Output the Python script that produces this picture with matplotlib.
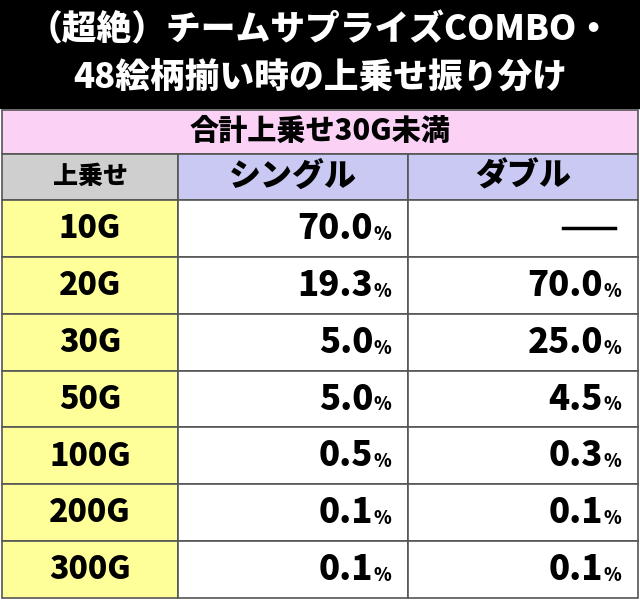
import matplotlib
matplotlib.use("Agg")
import matplotlib.pyplot as plt
from matplotlib.patches import Rectangle

plt.rcParams['font.family'] = ['Noto Sans CJK JP', 'DejaVu Sans']

title_lines = ["（超絶）チームサプライズCOMBO・", "48絵柄揃い時の上乗せ振り分け"]
subtitle = "合計上乗せ30G未満"
headers = ["上乗せ", "シングル", "ダブル"]
rows = ["10G", "20G", "30G", "50G", "100G", "200G", "300G"]
single = ["70.0", "19.3", "5.0", "5.0", "0.5", "0.1", "0.1"]
double = [None, "70.0", "25.0", "4.5", "0.3", "0.1", "0.1"]

W, H = 640, 600
fig = plt.figure(figsize=(6.4, 6.0), dpi=100)
ax = fig.add_axes([0, 0, 1, 1])
ax.set_xlim(0, W)
ax.set_ylim(H, 0)
ax.axis("off")

wt = "black"
# title band
ax.add_patch(Rectangle((0, 0), W, 108, color="black"))
ax.text(W / 2, 30, title_lines[0], color="white", ha="center", va="center",
        fontsize=25, fontweight=wt)
ax.text(W / 2, 78, title_lines[1], color="white", ha="center", va="center",
        fontsize=25, fontweight=wt)

cols = [2, 178, 408, 638]
ec = "#555555"
# subtitle
ax.add_patch(Rectangle((2, 110), 636, 44, fc="#fbd2f6", ec=ec, lw=1.2))
ax.text(W / 2, 131, subtitle, ha="center", va="center", fontsize=21, fontweight=wt)

# header
y0, hh = 154, 46
hfc = ["#cfcfcf", "#c9c9f3", "#c9c9f3"]
hsz = [18, 23, 23]
for i, h in enumerate(headers):
    ax.add_patch(Rectangle((cols[i], y0), cols[i + 1] - cols[i], hh, fc=hfc[i], ec=ec, lw=1.2))
    ax.text((cols[i] + cols[i + 1]) / 2, y0 + hh / 2 - 1, h, ha="center", va="center",
            fontsize=hsz[i], fontweight=wt)

rh = (598 - 200) / len(rows)
for r, name in enumerate(rows):
    y = 200 + r * rh
    for i in range(3):
        fc = "#ffff99" if i == 0 else "white"
        ax.add_patch(Rectangle((cols[i], y), cols[i + 1] - cols[i], rh, fc=fc, ec=ec, lw=1.2))
    cy = y + rh / 2
    ax.text((cols[0] + cols[1]) / 2, cy, name, ha="center", va="center",
            fontsize=23, fontweight=wt)
    for val, xr in ((single[r], 373), (double[r], 603)):
        if val is None:
            ax.plot([563, 615], [cy, cy], color="black", lw=2.5)
            continue
        ax.text(xr, cy, val, ha="right", va="center", fontsize=25, fontweight=wt)
        ax.text(xr + 1, cy + 6, "%", ha="left", va="center", fontsize=13, fontweight=wt)

fig.savefig("out.png", dpi=100)
